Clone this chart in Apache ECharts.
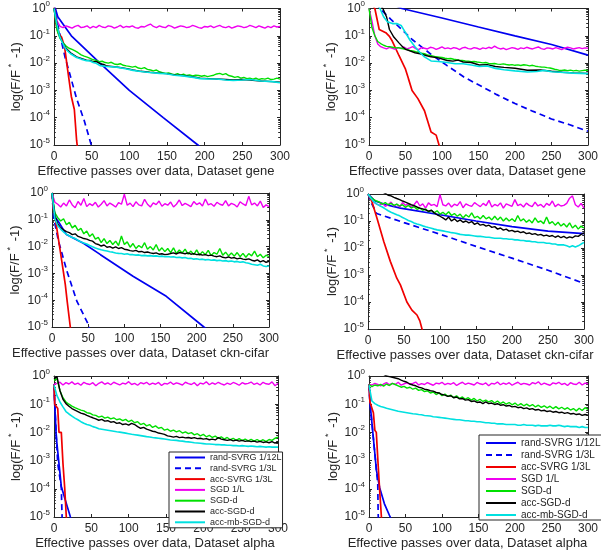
<!DOCTYPE html>
<html>
<head>
<meta charset="utf-8">
<script src="https://cdn.jsdelivr.net/npm/echarts/dist/echarts.min.js"></script>
<style>
html, body { margin: 0; padding: 0; background: #fff; }
#chart { width: 601px; height: 559px; }
</style>
</head>
<body>
<div id="chart"></div>
<script>
//  方法名（图例）
const methods = ['rand-SVRG 1/12L', 'rand-SVRG 1/3L', 'acc-SVRG 1/3L', 'SGD 1/L', 'SGD-d', 'acc-SGD-d', 'acc-mb-SGD-d'];
const datasets = ['gene', 'gene', 'ckn-cifar', 'ckn-cifar', 'alpha', 'alpha'];
const xTicks = [0, 50, 100, 150, 200, 250, 300];

//  有噪声曲线的横坐标（每 4 个 pass 一个点）
const passes = [
    0, 4, 8, 12, 16, 20, 24, 28, 32, 36,
    40, 44, 48, 52, 56, 60, 64, 68, 72, 76,
    80, 84, 88, 92, 96, 100, 104, 108, 112, 116,
    120, 124, 128, 132, 136, 140, 144, 148, 152, 156,
    160, 164, 168, 172, 176, 180, 184, 188, 192, 196,
    200, 204, 208, 212, 216, 220, 224, 228, 232, 236,
    240, 244, 248, 252, 256, 260, 264, 268, 272, 276,
    280, 284, 288, 292, 296, 300];

//  ---- gene, 左 ----
const geneLRand12 = [[0, 1.5], [5, 0.5], [23, 0.1], [61, 0.01], [100, 0.001], [145, 1e-4], [191, 1e-5], [200, 6e-6]];
const geneLRand3 = [[0, 1.5], [5, 0.25], [10, 0.06], [15, 0.015], [20, 0.005], [30, 5e-4], [40, 8e-5], [50, 9e-6], [52, 6e-6]];
const geneLAccSvrg = [[0, 1.2], [3, 0.25], [6, 0.12], [10, 0.09], [14, 0.04], [18, 0.006], [23, 6e-4], [24, 5.5e-4], [27, 2e-4], [30, 1.5e-5], [32, 5e-6]];
const geneLSgd = [
    1, 0.35, 0.22, 0.2, 0.23, 0.21, 0.19, 0.22, 0.24, 0.2,
    0.21, 0.23, 0.19, 0.22, 0.2, 0.24, 0.21, 0.2, 0.23, 0.22,
    0.19, 0.21, 0.24, 0.2, 0.22, 0.21, 0.23, 0.2, 0.19, 0.22,
    0.21, 0.24, 0.27, 0.22, 0.2, 0.23, 0.21, 0.2, 0.24, 0.22,
    0.19, 0.21, 0.23, 0.22, 0.2, 0.21, 0.24, 0.22, 0.2, 0.19,
    0.22, 0.21, 0.23, 0.2, 0.22, 0.24, 0.21, 0.2, 0.22, 0.19,
    0.21, 0.23, 0.22, 0.2, 0.21, 0.24, 0.22, 0.2, 0.23, 0.21,
    0.19, 0.22, 0.2, 0.23, 0.21, 0.22];
const geneLSgdD = [
    1, 0.16, 0.08, 0.056, 0.042, 0.035, 0.032, 0.028, 0.024, 0.02,
    0.018, 0.0166, 0.015, 0.0132, 0.0126, 0.0112, 0.0117, 0.0105, 0.01, 0.0107,
    0.0093, 0.0089, 0.0095, 0.0083, 0.0079, 0.0076, 0.0071, 0.0076, 0.0066, 0.0063,
    0.0068, 0.0059, 0.0056, 0.0052, 0.0056, 0.0048, 0.0045, 0.0042, 0.0044, 0.004,
    0.0038, 0.0041, 0.0036, 0.0039, 0.0035, 0.0037, 0.0034, 0.0036, 0.0035, 0.0033,
    0.0035, 0.0032, 0.0034, 0.0036, 0.004, 0.0042, 0.0038, 0.0041, 0.0035, 0.0033,
    0.003, 0.0032, 0.0028, 0.003, 0.0027, 0.0028, 0.0026, 0.0028, 0.0025, 0.0027,
    0.0026, 0.0028, 0.0025, 0.0026, 0.0028, 0.0026];
const geneLAccSgd = [[0, 1], [4, 0.28], [7.5, 0.1], [12, 0.052], [16, 0.035], [22, 0.024], [30, 0.017], [36, 0.015], [43, 0.0128], [48, 0.0125],
    [52, 0.011], [56, 0.0115], [61, 0.0095], [66, 0.009], [70, 0.0078], [83, 0.0072], [95, 0.0064], [105, 0.0056], [115, 0.005], [127, 0.0046],
    [140, 0.0043], [149, 0.0041], [160, 0.0037], [171, 0.0035], [185, 0.0031], [194, 0.0028], [205, 0.0027], [216, 0.0026], [228, 0.0025], [238, 0.0024],
    [250, 0.0025], [260, 0.0024], [275, 0.0022], [290, 0.0021], [300, 0.002]];
const geneLAccMb = [[0, 1], [4, 0.25], [7.5, 0.095], [12, 0.05], [16, 0.032], [22, 0.022], [30, 0.016], [36, 0.014], [43, 0.0123], [48, 0.012],
    [52, 0.0105], [56, 0.0098], [61, 0.0081], [70, 0.0075], [83, 0.0071], [95, 0.0062], [105, 0.0054], [115, 0.0049], [127, 0.0045], [140, 0.0042],
    [149, 0.0041], [160, 0.0036], [171, 0.0034], [185, 0.003], [194, 0.0027], [205, 0.0026], [216, 0.0026], [228, 0.0024], [238, 0.0023], [250, 0.0024],
    [260, 0.0025], [275, 0.0022], [290, 0.0021], [300, 0.0019]];

//  ---- gene, 右 ----
const geneRRand12 = [[0, 4], [20, 2], [45, 1], [100, 0.45], [150, 0.21], [200, 0.1], [250, 0.048], [300, 0.0195]];
const geneRRand3 = [[0, 3], [15, 1], [30, 0.4], [45, 0.17], [60, 0.07], [85, 0.021], [107, 0.0081], [130, 0.0031], [150, 0.0016], [175, 7e-4],
    [200, 3.3e-4], [225, 1.7e-4], [250, 9e-5], [275, 5.5e-5], [300, 3.2e-5]];
const geneRAccSvrg = [[0, 2], [8, 1], [14, 0.17], [23, 0.13], [28, 0.095], [32, 0.063], [41, 0.019], [50, 0.006], [54, 0.0027], [59, 0.001],
    [67, 5e-4], [76, 1.8e-4], [85, 3e-5], [92, 2.3e-5], [97, 8e-6]];
const geneRSgd = [
    1, 0.35, 0.1, 0.05, 0.04, 0.036, 0.033, 0.038, 0.035, 0.032,
    0.037, 0.034, 0.039, 0.033, 0.036, 0.04, 0.034, 0.031, 0.037, 0.035,
    0.033, 0.038, 0.036, 0.032, 0.035, 0.039, 0.034, 0.036, 0.033, 0.037,
    0.035, 0.031, 0.036, 0.038, 0.034, 0.033, 0.037, 0.035, 0.032, 0.036,
    0.034, 0.038, 0.035, 0.042, 0.036, 0.033, 0.035, 0.031, 0.034, 0.037,
    0.035, 0.032, 0.036, 0.034, 0.038, 0.035, 0.033, 0.036, 0.039, 0.034,
    0.032, 0.036, 0.035, 0.033, 0.037, 0.034, 0.031, 0.035, 0.038, 0.036,
    0.033, 0.035, 0.037, 0.034, 0.036, 0.035];
const geneRSgdD = [
    1, 0.2, 0.1, 0.062, 0.052, 0.045, 0.041, 0.04, 0.038, 0.036,
    0.037, 0.035, 0.033, 0.032, 0.029, 0.028, 0.026, 0.025, 0.023, 0.022,
    0.02, 0.019, 0.018, 0.017, 0.0165, 0.016, 0.015, 0.0145, 0.0148, 0.0138,
    0.0132, 0.0128, 0.0125, 0.012, 0.0118, 0.0112, 0.0115, 0.011, 0.0106, 0.0102,
    0.0105, 0.0098, 0.0095, 0.0097, 0.0092, 0.009, 0.0094, 0.0089, 0.0085, 0.0088,
    0.0083, 0.0086, 0.0082, 0.0087, 0.0084, 0.0079, 0.0083, 0.0077, 0.0074, 0.0072,
    0.0071, 0.0068, 0.0066, 0.0062, 0.0058, 0.0055, 0.0054, 0.0056, 0.0053, 0.0055,
    0.0052, 0.0054, 0.0051, 0.0053, 0.0055, 0.0054];
const geneRAccSgd = [[0, 5], [19, 1], [24, 0.5], [28, 0.17], [34, 0.09], [41, 0.055], [46, 0.04], [50, 0.032], [56, 0.028], [63, 0.024],
    [70, 0.022], [78, 0.019], [85, 0.017], [95, 0.0155], [107, 0.0125], [115, 0.0118], [122, 0.0128], [129, 0.011], [140, 0.0105], [151, 0.0085],
    [162, 0.0088], [173, 0.0075], [185, 0.007], [200, 0.0065], [217, 0.0055], [235, 0.0056], [250, 0.005], [265, 0.0046], [280, 0.0044], [300, 0.0042]];
const geneRAccMb = [[0, 5], [15, 1], [20, 0.5], [25, 0.33], [32, 0.28], [38, 0.28], [44, 0.24], [50, 0.13], [56, 0.07], [63, 0.04],
    [70, 0.024], [76, 0.017], [85, 0.012], [95, 0.0115], [107, 0.0105], [118, 0.0095], [129, 0.0095], [140, 0.0085], [151, 0.0075], [162, 0.0078],
    [173, 0.0064], [185, 0.0057], [200, 0.0052], [217, 0.0047], [230, 0.0049], [240, 0.0054], [250, 0.0048], [262, 0.0046], [280, 0.0043], [300, 0.0041]];

//  ---- ckn-cifar, 左 ----
const cknLRand12 = [[0, 1], [2, 0.3], [5, 0.12], [9, 0.085], [20, 0.028], [44, 0.013], [67, 0.005], [112, 7.8e-4], [158, 1.4e-4], [210, 1e-5], [215, 8e-6]];
const cknLRand3 = [[0, 1], [2.3, 0.12], [9, 0.016], [20.7, 0.0012], [34.5, 9e-5], [50.5, 1.2e-5], [52, 8e-6]];
const cknLAccSvrg = [[0, 1], [2, 0.25], [4.6, 0.11], [11.5, 0.0066], [18.4, 3.8e-4], [21, 9e-5], [25.3, 1e-5], [26, 7e-6]];
const cknLSgd = [
    1, 0.45, 0.38, 0.3, 0.42, 0.33, 0.55, 0.36, 0.28, 0.48,
    0.35, 0.62, 0.31, 0.4, 0.34, 0.45, 0.3, 0.38, 0.52, 0.33,
    0.42, 0.36, 0.3, 0.44, 0.38, 0.9, 0.35, 0.42, 0.31, 0.47,
    0.36, 0.33, 0.58, 0.38, 0.3, 0.43, 0.37, 0.5, 0.32, 0.4,
    0.35, 0.46, 0.3, 0.38, 0.55, 0.34, 0.41, 0.36, 0.31, 0.48,
    0.37, 0.43, 0.33, 0.6, 0.36, 0.4, 0.32, 0.45, 0.38, 0.35,
    0.52, 0.33, 0.41, 0.37, 0.3, 0.47, 0.39, 0.34, 0.75, 0.36,
    0.42, 0.33, 0.5, 0.29, 0.36, 0.31];
const cknLSgdD = [
    1, 0.18, 0.12, 0.09, 0.11, 0.065, 0.08, 0.05, 0.062, 0.04,
    0.048, 0.03, 0.038, 0.024, 0.03, 0.019, 0.022, 0.014, 0.02, 0.013,
    0.017, 0.012, 0.016, 0.011, 0.025, 0.012, 0.015, 0.0095, 0.013, 0.0085,
    0.011, 0.009, 0.014, 0.008, 0.01, 0.0075, 0.012, 0.0068, 0.009, 0.0065,
    0.0085, 0.006, 0.009, 0.0055, 0.0075, 0.0058, 0.008, 0.0052, 0.0068, 0.005,
    0.0075, 0.0048, 0.0065, 0.005, 0.0072, 0.0046, 0.006, 0.0052, 0.0085, 0.0048,
    0.0062, 0.0045, 0.0058, 0.0044, 0.006, 0.0042, 0.0056, 0.004, 0.0055, 0.0045,
    0.0068, 0.0042, 0.0052, 0.0038, 0.0048, 0.0042];
const cknLAccSgd = [
    1, 0.14, 0.07, 0.05, 0.042, 0.036, 0.033, 0.028, 0.03, 0.024,
    0.022, 0.02, 0.019, 0.017, 0.016, 0.013, 0.012, 0.0105, 0.0115, 0.0095,
    0.01, 0.0088, 0.0098, 0.0085, 0.0092, 0.008, 0.0076, 0.0071, 0.0068, 0.0072,
    0.0064, 0.0066, 0.006, 0.0063, 0.0058, 0.0055, 0.0058, 0.0052, 0.0054, 0.005,
    0.0052, 0.0055, 0.0058, 0.0053, 0.006, 0.0057, 0.0054, 0.0058, 0.0052, 0.0055,
    0.005, 0.0052, 0.0048, 0.005, 0.0046, 0.0048, 0.0044, 0.0042, 0.0045, 0.004,
    0.0038, 0.0041, 0.0037, 0.0039, 0.0035, 0.0037, 0.0034, 0.0033, 0.0035, 0.0031,
    0.0029, 0.0032, 0.0027, 0.003, 0.0026, 0.0028];
const cknLAccMb = [
    1, 0.11, 0.06, 0.045, 0.035, 0.029, 0.025, 0.022, 0.02, 0.017,
    0.015, 0.0135, 0.0125, 0.011, 0.0098, 0.0088, 0.0082, 0.0076, 0.0072, 0.0068,
    0.0064, 0.0062, 0.0058, 0.0056, 0.0055, 0.0052, 0.0054, 0.005, 0.005, 0.0048,
    0.0049, 0.0046, 0.0047, 0.0045, 0.0046, 0.0044, 0.0045, 0.0043, 0.0044, 0.0042,
    0.0043, 0.0041, 0.0042, 0.0039, 0.004, 0.0038, 0.0039, 0.0036, 0.0037, 0.0034,
    0.0035, 0.0033, 0.0034, 0.0032, 0.0033, 0.0031, 0.0032, 0.003, 0.0031, 0.0029,
    0.003, 0.0028, 0.0029, 0.0027, 0.0028, 0.0026, 0.0027, 0.0025, 0.0024, 0.0022,
    0.0021, 0.002, 0.0022, 0.0019, 0.0018, 0.0019];

//  ---- ckn-cifar, 右 ----
const cknRRand12 = [[0, 1], [10, 0.55], [25, 0.4], [45, 0.3], [100, 0.17], [150, 0.1], [200, 0.062], [250, 0.042], [300, 0.034]];
const cknRRand3 = [[0, 1], [5, 0.45], [12, 0.19], [50, 0.087], [100, 0.0325], [150, 0.0115], [200, 0.0042], [250, 0.0015], [300, 4.9e-4]];
const cknRAccSvrg = [[0, 1], [5.5, 0.52], [12.5, 0.126], [22, 0.017], [31, 0.0032], [40, 7.6e-4], [45, 4.3e-4], [54, 1e-4], [61, 5e-5], [68, 3.3e-5], [72, 2e-5], [76, 8e-6]];
const cknRSgd = [
    1, 0.7, 0.5, 0.42, 0.38, 0.45, 0.35, 0.4, 0.5, 0.36,
    0.42, 0.33, 0.48, 0.38, 0.44, 0.32, 0.4, 0.55, 0.36, 0.43,
    0.3, 0.47, 0.38, 0.41, 0.34, 0.95, 0.4, 0.36, 0.46, 0.33,
    0.42, 0.37, 0.52, 0.31, 0.43, 0.38, 0.35, 0.48, 0.4, 0.34,
    0.45, 0.37, 0.58, 0.33, 0.41, 0.36, 0.47, 0.3, 0.43, 0.39,
    0.35, 0.62, 0.37, 0.42, 0.33, 0.46, 0.38, 0.34, 0.5, 0.36,
    0.41, 0.32, 0.45, 0.38, 0.55, 0.34, 0.42, 0.36, 0.38, 0.45,
    0.7, 0.85, 0.4, 0.33, 0.45, 0.3];
const cknRSgdD = [
    1, 0.75, 0.62, 0.55, 0.5, 0.42, 0.48, 0.4, 0.45, 0.38,
    0.42, 0.36, 0.4, 0.32, 0.38, 0.3, 0.34, 0.27, 0.3, 0.25,
    0.28, 0.22, 0.25, 0.2, 0.24, 0.18, 0.21, 0.17, 0.22, 0.16,
    0.19, 0.15, 0.18, 0.13, 0.17, 0.14, 0.2, 0.13, 0.15, 0.12,
    0.16, 0.12, 0.14, 0.11, 0.15, 0.11, 0.14, 0.1, 0.13, 0.1,
    0.12, 0.095, 0.16, 0.1, 0.12, 0.09, 0.11, 0.085, 0.13, 0.09,
    0.1, 0.08, 0.14, 0.08, 0.095, 0.07, 0.09, 0.065, 0.08, 0.06,
    0.085, 0.055, 0.07, 0.05, 0.065, 0.055];
const cknRAccSgd = [
    3, 2.5, 2, 1.7, 1.4, 1.2, 1.05, 0.9, 0.85, 0.75,
    0.68, 0.62, 0.55, 0.5, 0.45, 0.4, 0.37, 0.33, 0.3, 0.28,
    0.26, 0.23, 0.25, 0.2, 0.17, 0.15, 0.13, 0.11, 0.14, 0.1,
    0.12, 0.095, 0.11, 0.09, 0.1, 0.085, 0.095, 0.075, 0.085, 0.07,
    0.075, 0.065, 0.07, 0.058, 0.062, 0.05, 0.055, 0.046, 0.05, 0.042,
    0.045, 0.04, 0.042, 0.037, 0.04, 0.034, 0.036, 0.032, 0.034, 0.03,
    0.032, 0.028, 0.03, 0.027, 0.029, 0.025, 0.028, 0.024, 0.027, 0.023,
    0.026, 0.024, 0.028, 0.027, 0.032, 0.036];
const cknRAccMb = [
    1, 0.7, 0.52, 0.43, 0.37, 0.33, 0.28, 0.24, 0.21, 0.19,
    0.17, 0.155, 0.135, 0.12, 0.105, 0.095, 0.085, 0.078, 0.072, 0.066,
    0.061, 0.057, 0.054, 0.05, 0.047, 0.045, 0.043, 0.041, 0.039, 0.037,
    0.036, 0.034, 0.032, 0.031, 0.03, 0.03, 0.029, 0.028, 0.027, 0.027,
    0.026, 0.025, 0.025, 0.024, 0.023, 0.023, 0.023, 0.022, 0.022, 0.021,
    0.021, 0.02, 0.02, 0.019, 0.019, 0.018, 0.018, 0.017, 0.017, 0.016,
    0.016, 0.016, 0.015, 0.015, 0.014, 0.014, 0.013, 0.013, 0.013, 0.012,
    0.011, 0.012, 0.011, 0.012, 0.014, 0.016];

//  ---- alpha, 左 ----
const alphaLRand12 = [[0, 0.5], [1, 0.1], [3, 0.007], [7.6, 4.5e-4], [9.8, 1.2e-4], [16.5, 3e-5], [22, 1e-5], [24, 7e-6]];
const alphaLRand3 = [[0, 0.5], [1, 0.1], [5, 8e-4], [9.8, 1.1e-4], [10.5, 2e-5], [11, 7e-6]];
const alphaLAccSvrg = [[0, 0.5], [1, 0.1], [5, 0.07], [6.7, 0.01], [9.8, 0.01], [12, 8e-4], [14.3, 1.1e-4], [16.5, 1e-5], [17, 7e-6]];
const alphaLSgd = [
    0.5, 0.55, 0.6, 0.48, 0.58, 0.52, 0.62, 0.5, 0.56, 0.47,
    0.6, 0.53, 0.5, 0.58, 0.45, 0.55, 0.62, 0.51, 0.57, 0.49,
    0.6, 0.54, 0.48, 0.56, 0.52, 0.63, 0.5, 0.55, 0.47, 0.58,
    0.53, 0.6, 0.49, 0.56, 0.51, 0.59, 0.46, 0.55, 0.52, 0.61,
    0.5, 0.57, 0.53, 0.48, 0.6, 0.54, 0.5, 0.58, 0.45, 0.56,
    0.52, 0.62, 0.49, 0.57, 0.51, 0.6, 0.53, 0.48, 0.56, 0.5,
    0.59, 0.54, 0.47, 0.58, 0.52, 0.55, 0.61, 0.5, 0.56, 0.48,
    0.6, 0.53, 0.51, 0.62, 0.45, 0.55];
const alphaLSgdD = [
    0.7, 0.8, 0.3, 0.17, 0.12, 0.1, 0.085, 0.075, 0.068, 0.062,
    0.058, 0.05, 0.048, 0.042, 0.04, 0.035, 0.038, 0.032, 0.035, 0.03,
    0.033, 0.028, 0.03, 0.026, 0.029, 0.024, 0.027, 0.022, 0.024, 0.019,
    0.021, 0.017, 0.019, 0.015, 0.017, 0.014, 0.015, 0.012, 0.013, 0.011,
    0.012, 0.0105, 0.0115, 0.0095, 0.0105, 0.009, 0.0098, 0.0082, 0.009, 0.0075,
    0.0085, 0.007, 0.0078, 0.0066, 0.0074, 0.0062, 0.007, 0.0058, 0.0066, 0.0055,
    0.0062, 0.0052, 0.006, 0.0051, 0.0058, 0.005, 0.0057, 0.0049, 0.0056, 0.0048,
    0.0055, 0.0047, 0.0056, 0.0052, 0.0062, 0.0068];
const alphaLAccSgd = [
    0.8, 0.95, 0.3, 0.15, 0.105, 0.085, 0.07, 0.062, 0.055, 0.048,
    0.045, 0.04, 0.036, 0.033, 0.03, 0.027, 0.029, 0.025, 0.026, 0.023,
    0.024, 0.021, 0.022, 0.019, 0.02, 0.018, 0.021, 0.019, 0.016, 0.014,
    0.015, 0.013, 0.012, 0.011, 0.0105, 0.0095, 0.009, 0.0085, 0.0075, 0.0072,
    0.0068, 0.0072, 0.0065, 0.0068, 0.0064, 0.0066, 0.0062, 0.0065, 0.006, 0.0062,
    0.0058, 0.006, 0.0055, 0.0058, 0.0054, 0.0065, 0.0058, 0.0055, 0.0052, 0.0055,
    0.005, 0.0053, 0.0049, 0.0052, 0.0048, 0.005, 0.0047, 0.0049, 0.0045, 0.0048,
    0.0044, 0.0046, 0.0043, 0.0047, 0.0042, 0.0045];
const alphaLAccMb = [
    0.47, 0.2, 0.12, 0.08, 0.055, 0.045, 0.038, 0.032, 0.028, 0.024,
    0.021, 0.019, 0.018, 0.016, 0.015, 0.0135, 0.013, 0.0125, 0.012, 0.0115,
    0.011, 0.0105, 0.0102, 0.0098, 0.0094, 0.009, 0.0086, 0.0083, 0.008, 0.0077,
    0.0074, 0.0071, 0.0069, 0.0066, 0.0064, 0.0062, 0.006, 0.0058, 0.0056, 0.0054,
    0.0053, 0.0052, 0.005, 0.0049, 0.0047, 0.0046, 0.0045, 0.0043, 0.0042, 0.0041,
    0.004, 0.0039, 0.0039, 0.0038, 0.0037, 0.0037, 0.0036, 0.0036, 0.0035, 0.0035,
    0.0034, 0.0034, 0.0033, 0.0034, 0.0033, 0.0032, 0.0033, 0.0032, 0.0031, 0.0032,
    0.0031, 0.003, 0.0031, 0.003, 0.003, 0.003];

//  ---- alpha, 右 ----
const alphaRRand12 = [[0, 0.5], [1.3, 0.12], [5.8, 0.007], [10.2, 4.5e-4], [14.6, 1.1e-4], [21, 3e-5], [29, 1e-5], [31, 8e-6]];
const alphaRRand3 = [[0, 0.5], [1.3, 0.12], [5.8, 0.007], [10.2, 4.5e-4], [12, 1.5e-4], [12.5, 1.5e-5], [13, 6e-6]];
const alphaRAccSvrg = [[0, 0.5], [1.3, 0.12], [6, 0.05], [8, 0.012], [10, 0.01], [12.4, 8e-4], [14.6, 9e-5], [17, 1e-5], [17.5, 7e-6]];
const alphaRSgd = [
    0.5, 0.48, 0.55, 0.5, 0.45, 0.52, 0.58, 0.49, 0.55, 0.5,
    0.6, 0.47, 0.53, 0.57, 0.5, 0.55, 0.61, 0.48, 0.54, 0.5,
    0.58, 0.52, 0.47, 0.56, 0.53, 0.6, 0.49, 0.55, 0.51, 0.58,
    0.46, 0.54, 0.6, 0.5, 0.56, 0.52, 0.48, 0.59, 0.53, 0.5,
    0.57, 0.45, 0.55, 0.52, 0.61, 0.49, 0.56, 0.51, 0.58, 0.47,
    0.54, 0.6, 0.5, 0.55, 0.52, 0.48, 0.58, 0.53, 0.62, 0.49,
    0.56, 0.51, 0.47, 0.57, 0.53, 0.6, 0.5, 0.55, 0.46, 0.58,
    0.52, 0.5, 0.6, 0.48, 0.56, 0.53];
const alphaRSgdD = [
    0.5, 0.42, 0.48, 0.45, 0.5, 0.44, 0.52, 0.46, 0.55, 0.5,
    0.45, 0.4, 0.43, 0.37, 0.4, 0.34, 0.37, 0.31, 0.33, 0.28,
    0.3, 0.25, 0.27, 0.22, 0.25, 0.2, 0.23, 0.19, 0.21, 0.17,
    0.2, 0.16, 0.18, 0.15, 0.17, 0.14, 0.16, 0.13, 0.15, 0.125,
    0.14, 0.12, 0.135, 0.11, 0.13, 0.105, 0.12, 0.1, 0.115, 0.095,
    0.11, 0.09, 0.105, 0.088, 0.1, 0.085, 0.097, 0.08, 0.092, 0.077,
    0.088, 0.074, 0.085, 0.07, 0.082, 0.068, 0.078, 0.066, 0.075, 0.062,
    0.07, 0.058, 0.072, 0.06, 0.075, 0.065];
const alphaRAccSgd = [
    3, 2.5, 2, 1.6, 1.35, 1.15, 1, 0.95, 0.9, 0.85,
    0.8, 0.72, 0.65, 0.6, 0.52, 0.48, 0.45, 0.4, 0.38, 0.34,
    0.33, 0.3, 0.29, 0.26, 0.25, 0.22, 0.21, 0.19, 0.2, 0.17,
    0.18, 0.155, 0.16, 0.14, 0.145, 0.125, 0.13, 0.115, 0.12, 0.105,
    0.12, 0.105, 0.11, 0.098, 0.104, 0.092, 0.096, 0.086, 0.09, 0.08,
    0.084, 0.075, 0.079, 0.07, 0.074, 0.066, 0.07, 0.062, 0.065, 0.058,
    0.061, 0.055, 0.058, 0.052, 0.055, 0.05, 0.052, 0.047, 0.05, 0.045,
    0.047, 0.043, 0.045, 0.04, 0.043, 0.041];
const alphaRAccMb = [
    0.47, 0.13, 0.105, 0.092, 0.083, 0.078, 0.072, 0.068, 0.064, 0.06,
    0.056, 0.054, 0.052, 0.05, 0.048, 0.046, 0.045, 0.043, 0.042, 0.04,
    0.039, 0.038, 0.036, 0.035, 0.034, 0.033, 0.032, 0.031, 0.03, 0.029,
    0.028, 0.028, 0.027, 0.026, 0.026, 0.025, 0.025, 0.024, 0.024, 0.023,
    0.022, 0.022, 0.021, 0.021, 0.02, 0.02, 0.02, 0.019, 0.019, 0.019,
    0.019, 0.018, 0.018, 0.019, 0.018, 0.018, 0.018, 0.017, 0.018, 0.017,
    0.017, 0.017, 0.018, 0.017, 0.017, 0.018, 0.017, 0.016, 0.017, 0.016,
    0.016, 0.016, 0.015, 0.016, 0.015, 0.015];

//  每个子图的曲线（顺序同图例）
const panelData = [
    [geneLRand12, geneLRand3, geneLAccSvrg, geneLSgd, geneLSgdD, geneLAccSgd, geneLAccMb],
    [geneRRand12, geneRRand3, geneRAccSvrg, geneRSgd, geneRSgdD, geneRAccSgd, geneRAccMb],
    [cknLRand12, cknLRand3, cknLAccSvrg, cknLSgd, cknLSgdD, cknLAccSgd, cknLAccMb],
    [cknRRand12, cknRRand3, cknRAccSvrg, cknRSgd, cknRSgdD, cknRAccSgd, cknRAccMb],
    [alphaLRand12, alphaLRand3, alphaLAccSvrg, alphaLSgd, alphaLSgdD, alphaLAccSgd, alphaLAccMb],
    [alphaRRand12, alphaRRand3, alphaRAccSvrg, alphaRSgd, alphaRSgdD, alphaRAccSgd, alphaRAccMb],
];

//  次刻度 2..9 x 10^k
const minorTicks = [];
for (let k = -5; k < 0; k++) {
    for (let m = 2; m < 10; m++) minorTicks.push(+(m * Math.pow(10, k)).toPrecision(3));
}

//  布局
const FONT = 'Liberation Sans, Arial, Helvetica, sans-serif';
const AX = '#262626';
const layout = [
    {left: 54, top: 5, width: 226, height: 140, nameGap: 29, shift: 22},
    {left: 369, top: 5, width: 227, height: 140, nameGap: 29, shift: 22},
    {left: 52, top: 193, width: 217, height: 134, nameGap: 28, shift: 40},
    {left: 368, top: 194, width: 216, height: 135, nameGap: 27, shift: 22},
    {left: 54, top: 376, width: 224, height: 141, nameGap: 29, shift: 22},
    {left: 369, top: 376, width: 225, height: 141, nameGap: 27, shift: 22},
];
const lineStyles = [
    {color: '#0000f0', width: 1.7, type: 'solid'},
    {color: '#0000f0', width: 1.7, type: [6, 4]},
    {color: '#f00000', width: 1.7, type: 'solid'},
    {color: '#f000f0', width: 1.4, type: 'solid'},
    {color: '#00e000', width: 1.4, type: 'solid'},
    {color: '#000000', width: 1.4, type: 'solid'},
    {color: '#00e0e0', width: 1.6, type: 'solid'},
];

function toPairs(d) {
    if (typeof d[0] === 'number') {
        return d.map(function (v, i) { return [passes[i], v]; });
    }
    return d;
}

function supLabel(v) {
    const e = Math.round(Math.log10(v));
    return '{b|10}{s|' + e + '}';
}

const grids = [], xAxes = [], yAxes = [], series = [];
const axisLine = {onZero: false, lineStyle: {color: AX, width: 1}};

layout.forEach(function (g, i) {
    grids.push({left: g.left, top: g.top, width: g.width, height: g.height});
    const xBase = {
        gridIndex: i, type: 'value', min: 0, max: 300, interval: 50,
        axisLine: axisLine, splitLine: {show: false},
        axisTick: {inside: true, length: 3, lineStyle: {color: AX}},
    };
    xAxes.push(Object.assign({}, xBase, {
        position: 'bottom',
        axisLabel: {fontSize: 12, color: AX, margin: 6, fontFamily: FONT,
            customValues: xTicks},
        name: 'Effective passes over data, Dataset ' + datasets[i],
        nameLocation: 'middle', nameGap: 20,
        nameTextStyle: {fontSize: 13, color: AX, fontFamily: FONT, padding: [0, g.shift, 0, 0]},
    }));
    xAxes.push(Object.assign({}, xBase, {position: 'top', axisLabel: {show: false}}));

    const yBase = {
        gridIndex: i, type: 'log', logBase: 10, min: 1e-5, max: 1,
        splitLine: {show: false}, axisLine: axisLine,
    };
    yAxes.push(Object.assign({}, yBase, {
        position: 'left',
        axisTick: {inside: true, length: 3, lineStyle: {color: AX}},
        axisLabel: {
            formatter: supLabel, margin: 4,
            rich: {
                b: {fontSize: 12, color: AX, fontFamily: FONT},
                s: {fontSize: 8, color: AX, fontFamily: FONT, padding: [0, 0, 9, 0]},
            },
        },
        name: '{a|log(F/F}{s|*}{a| -1)}',
        nameLocation: 'middle', nameGap: g.nameGap,
        nameTextStyle: {
            rich: {
                a: {fontSize: 13, color: AX, fontFamily: FONT},
                s: {fontSize: 9, color: AX, fontFamily: FONT, padding: [0, 2, 9, 3]},
            },
        },
    }));
    yAxes.push(Object.assign({}, yBase, {
        position: 'right',
        axisTick: {inside: true, length: 3, lineStyle: {color: AX}},
        axisLabel: {show: false},
    }));
    ['left', 'right'].forEach(function (pos) {
        yAxes.push(Object.assign({}, yBase, {
            position: pos,
            axisLine: {show: false, onZero: false},
            axisTick: {inside: true, length: 1.8, customValues: minorTicks, lineStyle: {color: AX}},
            axisLabel: {show: false},
        }));
    });

    panelData[i].forEach(function (d, k) {
        series.push({
            type: 'line',
            name: methods[k],
            xAxisIndex: 2 * i,
            yAxisIndex: 4 * i,
            data: toPairs(d),
            symbol: 'none',
            showSymbol: false,
            silent: true,
            lineStyle: lineStyles[k],
            itemStyle: {color: lineStyles[k].color},
            color: lineStyles[k].color,
        });
    });
});

//  图例：只画线，不画圆点
const legendBase = {
    data: methods,
    orient: 'vertical',
    align: 'left',
    itemWidth: 30,
    itemHeight: 10,
    backgroundColor: '#ffffff',
    borderColor: AX,
    borderWidth: 1,
    borderRadius: 0,
    selectedMode: false,
    itemStyle: {color: 'rgba(0,0,0,0)', borderColor: 'rgba(0,0,0,0)', borderWidth: 0},
    z: 10,
};

const option = {
    animation: false,
    backgroundColor: '#ffffff',
    grid: grids,
    xAxis: xAxes,
    yAxis: yAxes,
    legend: [
        Object.assign({}, legendBase, {
            left: 169, top: 452, itemGap: 1.8, padding: [1, 1, 1, 5],
            textStyle: {fontSize: 9, color: AX, fontFamily: FONT},
        }),
        Object.assign({}, legendBase, {
            left: 479, top: 435, itemGap: 2, padding: [3, 2, 0, 6],
            textStyle: {fontSize: 10, color: AX, fontFamily: FONT},
        }),
    ],
    series: series,
};

const myChart = echarts.init(document.getElementById('chart'));
myChart.setOption(option);
</script>
</body>
</html>
